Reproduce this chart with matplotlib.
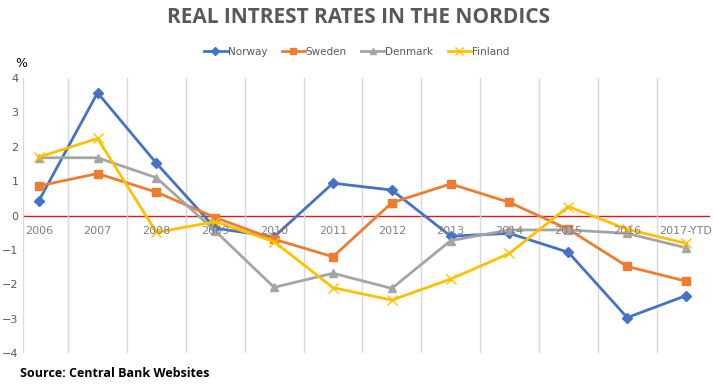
import matplotlib.pyplot as plt
from matplotlib.ticker import FixedLocator

years = ['2006', '2007', '2008', '2009', '2010', '2011', '2012', '2013',
         '2014', '2015', '2016', '2017-YTD']
norway = [0.42, 3.57, 1.52, -0.37, -0.62, 0.94, 0.74, -0.60, -0.52, -1.07, -2.97, -2.33]
sweden = [0.86, 1.22, 0.68, -0.06, -0.69, -1.20, 0.37, 0.92, 0.38, -0.40, -1.48, -1.91]
denmark = [1.68, 1.68, 1.10, -0.45, -2.09, -1.68, -2.12, -0.73, -0.42, -0.42, -0.52, -0.94]
finland = [1.70, 2.24, -0.49, -0.18, -0.76, -2.10, -2.46, -1.85, -1.10, 0.26, -0.40, -0.81]
y_ticks = [-4, -3, -2, -1, 0, 1, 2, 3, 4]

fig = plt.figure(figsize=(7.13, 3.89), dpi=100)
ax = fig.add_axes([0.032, 0.0925, 0.964, 0.707])

x = list(range(len(years)))
ax.plot(x, norway, color='#4472C4', lw=2, marker='D', ms=5, label='Norway')
ax.plot(x, sweden, color='#ED7D31', lw=2, marker='s', ms=6, label='Sweden')
ax.plot(x, denmark, color='#A5A5A5', lw=2, marker='^', ms=6, label='Denmark')
ax.plot(x, finland, color='#FFC000', lw=2, marker='x', ms=7, mew=1, label='Finland')

ax.axhline(0, color='#E0161B', lw=1, zorder=1)
ax.set_xlim(-0.27, 11.41)
ax.set_ylim(-4, 4)

# vertical gridlines between categories
ax.xaxis.set_major_locator(FixedLocator([-0.27] + [i + 0.5 for i in range(11)]))
ax.grid(axis='x', color='#D9D9D9', lw=1, zorder=0)
ax.tick_params(axis='x', length=0, labelbottom=False)
ax.set_yticks(y_ticks)
ax.tick_params(axis='y', length=0, labelsize=8, labelcolor='#595959', pad=3)
for s in ax.spines.values():
    s.set_visible(False)

for i, lab in enumerate(years):
    ax.annotate(lab, (i, 0), xytext=(0, -11), textcoords='offset points',
                ha='center', va='center', fontsize=8, color='#808080')

fig.text(0.503, 0.955, 'REAL INTREST RATES IN THE NORDICS', ha='center', va='center',
         fontsize=15, fontweight='bold', color='#595959', family='Open Sans')
fig.text(0.022, 0.838, '%', fontsize=9, color='black', va='center')
fig.text(0.028, 0.04, 'Source: Central Bank Websites', fontsize=9,
         fontweight='bold', color='black', va='center', family='Open Sans')

fig.legend(*ax.get_legend_handles_labels(), loc='center', bbox_to_anchor=(0.5, 0.866),
           ncol=4, frameon=False, fontsize=7.5, labelcolor='#595959', handlelength=2.2,
           columnspacing=1.4, handletextpad=0.1, markerscale=0.8)

fig.savefig('out.png', dpi=100)
